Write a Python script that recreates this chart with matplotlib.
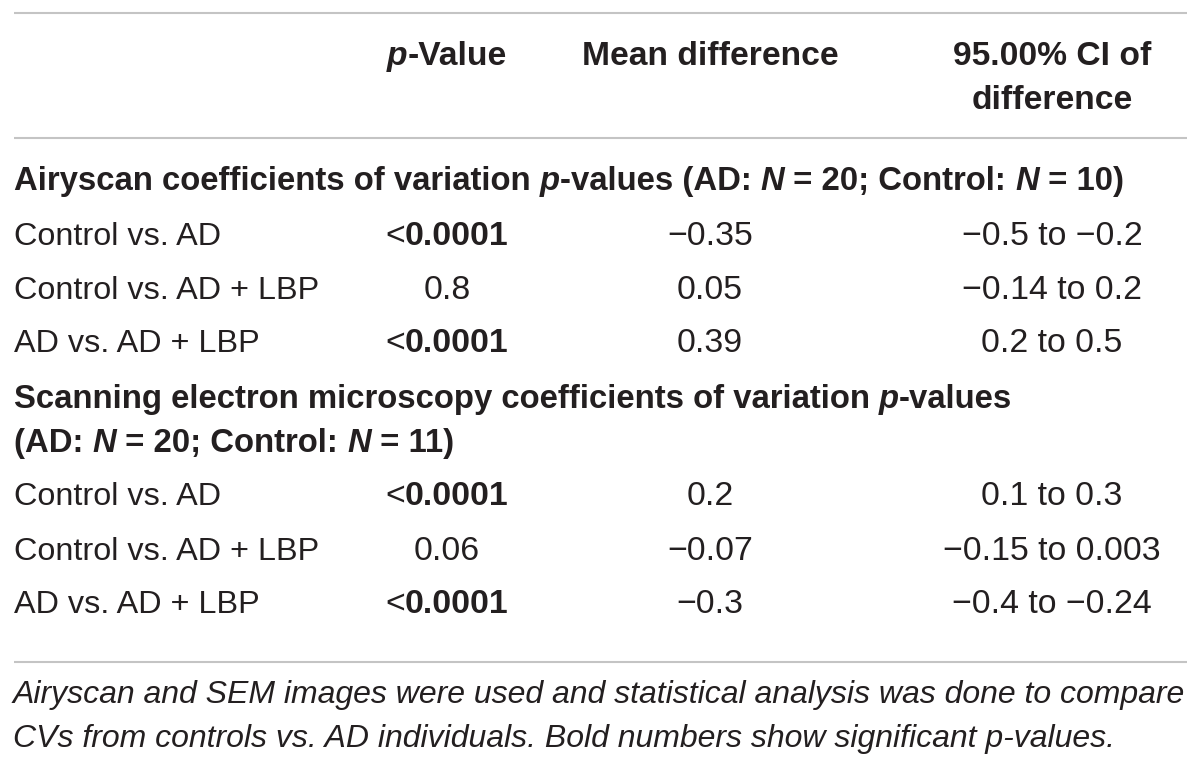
import matplotlib
matplotlib.use('Agg')
from matplotlib import pyplot as plt

plt.rcParams['font.family'] = ['Liberation Sans', 'DejaVu Sans']

###############################################################################
# Table content
col_headers = ['p-Value', 'Mean difference', '95.00% CI of\ndifference']
comparisons = ['Control vs. AD', 'Control vs. AD + LBP', 'AD vs. AD + LBP']

airy_title = 'Airyscan coefficients of variation p-values (AD: N = 20; Control: N = 10)'
airy_p = ['<0.0001', '0.8', '<0.0001']
airy_mean = [-0.35, 0.05, 0.39]
airy_ci_lo = [-0.5, -0.14, 0.2]
airy_ci_hi = [-0.2, 0.2, 0.5]

sem_title = 'Scanning electron microscopy coefficients of variation p-values\n(AD: N = 20; Control: N = 11)'
sem_p = ['<0.0001', '0.06', '<0.0001']
sem_mean = [0.2, -0.07, -0.3]
sem_ci_lo = [0.1, -0.15, -0.4]
sem_ci_hi = [0.3, 0.003, -0.24]

footnote = ['Airyscan and SEM images were used and statistical analysis was done to compare',
            'CVs from controls vs. AD individuals. Bold numbers show significant p-values.']

###############################################################################
W, H = 1200, 767
DPI = 100
TXT = '#231f20'
RULE = '#c4c4c4'
FS_LABEL = 23.3
FS_NUM = 24.4
FS_HEAD = 24.2
FS_SEC = 23.7

fig = plt.figure(figsize=[W / DPI, H / DPI], dpi=DPI)
ax = fig.add_axes([0, 0, 1, 1])
ax.set_xlim(0, W)
ax.set_ylim(H, 0)
ax.axis('off')
renderer = fig.canvas.get_renderer()

x_left, x_right = 14, 1187
col_x = [447, 710, 1052]


def fmt(v):
    return ('%g' % v).replace('-', '\u2212')


def width_of(s, fontsize, weight='normal', style='normal'):
    t = ax.text(0, 0, s, fontsize=fontsize, fontweight=weight, fontstyle=style)
    w = t.get_window_extent(renderer).width
    t.remove()
    return w


def draw_runs(runs, x, y, fontsize, ha='left'):
    # runs: list of (text, weight, style); placed one after the other
    widths = [width_of(s, fontsize, wt, st) for s, wt, st in runs]
    if ha == 'center':
        x = x - sum(widths) / 2.0
    for (s, wt, st), w in zip(runs, widths):
        ax.text(x, y, s, fontsize=fontsize, fontweight=wt, fontstyle=st, color=TXT,
                va='baseline', ha='left')
        x += w


def heading_runs(line):
    # bold text with italic p and N
    runs = []
    buf = ''
    for i, c in enumerate(line):
        if line[i:i + 2] in ('p-', 'N '):
            if buf:
                runs.append((buf, 'bold', 'normal'))
                buf = ''
            runs.append((c, 'bold', 'italic'))
        else:
            buf += c
    if buf:
        runs.append((buf, 'bold', 'normal'))
    return runs


def p_runs(p):
    if p.startswith('<'):
        return [('<', 'normal', 'normal'), (p[1:], 'bold', 'normal')]
    return [(p, 'bold' if float(p) < 0.05 else 'normal', 'normal')]


# rules
ax.hlines([13, 138, 662], x_left, x_right, color=RULE, linewidth=1.5)

# column headers
draw_runs([('p', 'bold', 'italic'), ('-Value', 'bold', 'normal')], col_x[0], 65, FS_HEAD, ha='center')
draw_runs([(col_headers[1], 'bold', 'normal')], col_x[1], 65, FS_HEAD, ha='center')
for k, line in enumerate(col_headers[2].split('\n')):
    draw_runs([(line, 'bold', 'normal')], col_x[2], 65 + 44 * k, FS_HEAD, ha='center')


def draw_section(title, y_title, p_vals, means, lo, hi, y_rows):
    for k, line in enumerate(title.split('\n')):
        draw_runs(heading_runs(line), x_left, y_title + 44 * k, FS_SEC)
    for i, y in enumerate(y_rows):
        draw_runs([(comparisons[i], 'normal', 'normal')], x_left, y, FS_LABEL)
        draw_runs(p_runs(p_vals[i]), col_x[0], y, FS_NUM, ha='center')
        draw_runs([(fmt(means[i]), 'normal', 'normal')], col_x[1], y, FS_NUM, ha='center')
        draw_runs([(fmt(lo[i]) + ' to ' + fmt(hi[i]), 'normal', 'normal')], col_x[2], y,
                  FS_NUM, ha='center')


draw_section(airy_title, 190, airy_p, airy_mean, airy_ci_lo, airy_ci_hi, [245, 299, 352])
draw_section(sem_title, 408, sem_p, sem_mean, sem_ci_lo, sem_ci_hi, [505, 560, 613])

# footnote, sized to span the table width
fs_note = 20.0
w0 = width_of(footnote[0], fs_note, style='italic')
fs_note = fs_note * (1183 - 13) / w0
for k, line in enumerate(footnote):
    draw_runs([(line, 'normal', 'italic')], 13, 703 + 44 * k, fs_note)

fig.savefig('out.png', dpi=DPI)
